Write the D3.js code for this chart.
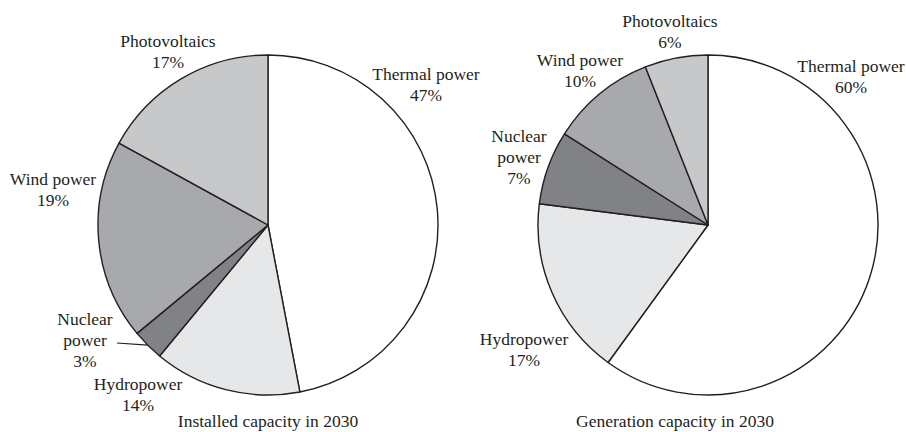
<!DOCTYPE html>
<html>
<head>
<meta charset="utf-8">
<script src="https://cdn.jsdelivr.net/npm/d3@7"></script>
</head>
<body style="margin:0;background:#fff">
<div id="chart"></div>
<script>
// data
const categories = ["Thermal power", "Hydropower", "Nuclear power", "Wind power", "Photovoltaics"];
const installed = [47, 14, 3, 19, 17];
const generation = [60, 17, 7, 10, 6];
const titles = ["Installed capacity in 2030", "Generation capacity in 2030"];

const width = 906, height = 432;
const radius = 170;

let svg = d3.select("#chart")
    .append("svg")
    .attr("width", width)
    .attr("height", height)
    .attr("font-family", "'Liberation Serif', 'Times New Roman', 'Noto Serif', 'DejaVu Serif', Times, serif")
    .attr("font-size", 17.5)
    .attr("fill", "#231f20");

let color = d3.scaleOrdinal()
    .domain(categories)
    .range(["#ffffff", "#e6e7e8", "#808285", "#a7a9ac", "#c7c8ca"]);

let pie = d3.pie().sort(null).value(d => d.value);
let arc = d3.arc().innerRadius(0).outerRadius(radius);

// label layout per chart (text centre, first baseline), relative to pie centre
const layouts = [
    {
        cx: 268, cy: 225,
        labels: {
            "Thermal power": [158, -145],
            "Hydropower": [-130, 165],
            "Nuclear power": [-183, 100, true],
            "Wind power": [-215, -40],
            "Photovoltaics": [-100, -178]
        },
        leader: "Nuclear power"
    },
    {
        cx: 708, cy: 225,
        labels: {
            "Thermal power": [143, -153],
            "Hydropower": [-184, 120],
            "Nuclear power": [-189, -83, true],
            "Wind power": [-128, -159],
            "Photovoltaics": [-38, -198]
        },
        leader: null
    }
];

[installed, generation].forEach((values, i) => {
    let lay = layouts[i];
    let data = categories.map((c, j) => ({ name: c, value: values[j] }));
    let g = svg.append("g").attr("transform", `translate(${lay.cx}, ${lay.cy})`);

    let arcs = pie(data);
    g.selectAll("path")
        .data(arcs)
        .enter()
        .append("path")
        .attr("d", arc)
        .attr("fill", d => color(d.data.name))
        .attr("stroke", "#231f20")
        .attr("stroke-width", 1.4)
        .attr("stroke-linejoin", "round");

    arcs.forEach(d => {
        let p = lay.labels[d.data.name];
        let t = g.append("text")
            .attr("text-anchor", "middle")
            .attr("x", p[0])
            .attr("y", p[1]);
        let lines = p[2] ? d.data.name.split(" ") : [d.data.name];
        lines.push(d.data.value + "%");
        lines.forEach((l, k) => {
            t.append("tspan").attr("x", p[0]).attr("dy", k === 0 ? 0 : 21).text(l);
        });
    });

    if (lay.leader) {
        let d = arcs.find(a => a.data.name === lay.leader);
        let mid = (d.startAngle + d.endAngle) / 2;
        let p = lay.labels[lay.leader];
        g.append("line")
            .attr("x1", p[0] + 32)
            .attr("y1", p[1] + 18)
            .attr("x2", radius * Math.sin(mid))
            .attr("y2", -radius * Math.cos(mid))
            .attr("stroke", "#231f20")
            .attr("stroke-width", 1.2);
    }

    svg.append("text")
        .attr("text-anchor", "middle")
        .attr("x", lay.cx + (i === 0 ? 0 : -33))
        .attr("y", 427)
        .text(titles[i]);
});
</script>
</body>
</html>
